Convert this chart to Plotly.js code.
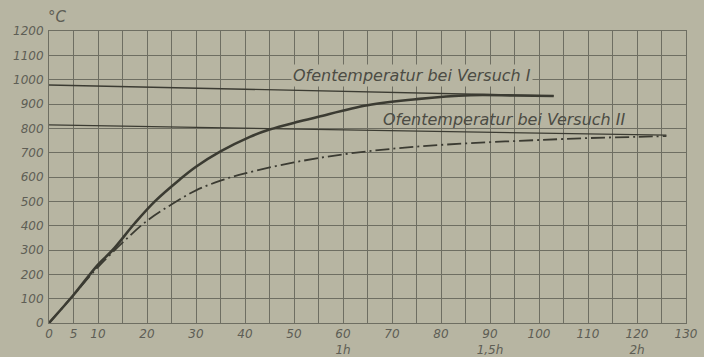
<!DOCTYPE html>
<html>
<head>
<meta charset="utf-8">
<script src="https://cdn.plot.ly/plotly-3.0.1.min.js"></script>
<style>html,body{margin:0;padding:0;background:#b7b5a2;}</style>
</head>
<body>
<div id="chart" style="width:704px;height:357px;"></div>
<script>
// Versuch I (solid)
const timeI = [0, 5, 10, 13, 17.5, 21.6, 26.7, 30, 35, 41, 45, 51, 55, 65, 75, 86, 95, 103];
const tempI = [0, 115, 240, 300, 410, 500, 590, 642, 705, 765, 795, 828, 848, 895, 920, 936, 935, 933];
// Versuch II (dash-dot)
const timeII = [0, 5, 10, 15, 20, 25, 30, 35, 40, 50, 60, 70, 80, 90, 100, 110, 120, 126];
const tempII = [0, 115, 230, 330, 420, 487, 545, 585, 615, 660, 693, 716, 732, 743, 752, 760, 765, 768];
// furnace temperatures
const ofenTimeI = [0, 103];
const ofenTempI = [978, 933];
const ofenTimeII = [0, 126];
const ofenTempII = [814, 772];
// axis ticks
const xTickVals = [0,5,10,15,20,25,30,35,40,45,50,55,60,65,70,75,80,85,90,95,100,105,110,115,120,125,130];
const xTickText = ['0','5','10','','20','','30','','40','','50','','60<br>1h','','70','','80','','90<br>1,5h','','100','','110','','120<br>2h','','130'];
const labelI = 'Ofentemperatur bei Versuch I';
const labelII = 'Ofentemperatur bei Versuch II';
const unitLabel = '°C';

const ink = '#3b3b32';
const gridC = '#6e6e62';
const textC = '#5e5e55';
const fnt = {family: 'DejaVu Sans', size: 12, color: textC, style: 'italic'};
const lblFont = {family: 'DejaVu Sans', size: 16, color: '#4c4c44', style: 'italic'};

const traces = [
  {x: ofenTimeI, y: ofenTempI, mode: 'lines', line: {color: ink, width: 1.3}, hoverinfo: 'skip'},
  {x: ofenTimeII, y: ofenTempII, mode: 'lines', line: {color: ink, width: 1.3}, hoverinfo: 'skip'},
  {x: timeII, y: tempII, mode: 'lines', line: {color: ink, width: 1.8, dash: '14px,4px,2px,4px', shape: 'spline', smoothing: 1}},
  {x: timeI, y: tempI, mode: 'lines', line: {color: ink, width: 2.6, shape: 'spline', smoothing: 1}}
];

const layout = {
  width: 704, height: 357,
  margin: {l: 49, r: 18, t: 31, b: 34},
  paper_bgcolor: '#b7b5a2',
  plot_bgcolor: '#b7b5a2',
  showlegend: false,
  font: fnt,
  xaxis: {
    range: [0, 130], tickmode: 'array', tickvals: xTickVals, ticktext: xTickText,
    showgrid: true, gridcolor: gridC, gridwidth: 1, zeroline: false,
    showline: true, linecolor: gridC, linewidth: 1, mirror: true,
    ticks: '', tickfont: fnt, tickangle: 0, ticklabelstandoff: 0
  },
  yaxis: {
    range: [0, 1200], dtick: 100, tick0: 0,
    showgrid: true, gridcolor: gridC, gridwidth: 1, zeroline: false,
    showline: true, linecolor: gridC, linewidth: 1, mirror: true,
    ticks: '', tickfont: fnt, ticklabelstandoff: 2
  },
  annotations: [
    {text: labelI, x: 74, y: 1016, xref: 'x', yref: 'y', showarrow: false, font: lblFont, bgcolor: '#b7b5a2'},
    {text: labelII, x: 93, y: 838, xref: 'x', yref: 'y', showarrow: false, font: lblFont},
    {text: unitLabel, x: 0.013, y: 1.048, xref: 'paper', yref: 'paper', xanchor: 'center', yanchor: 'middle', showarrow: false,
     font: {family: 'DejaVu Sans', size: 15, color: textC, style: 'italic'}}
  ]
};

Plotly.newPlot('chart', traces, layout, {displayModeBar: false, staticPlot: true});
</script>
</body>
</html>
